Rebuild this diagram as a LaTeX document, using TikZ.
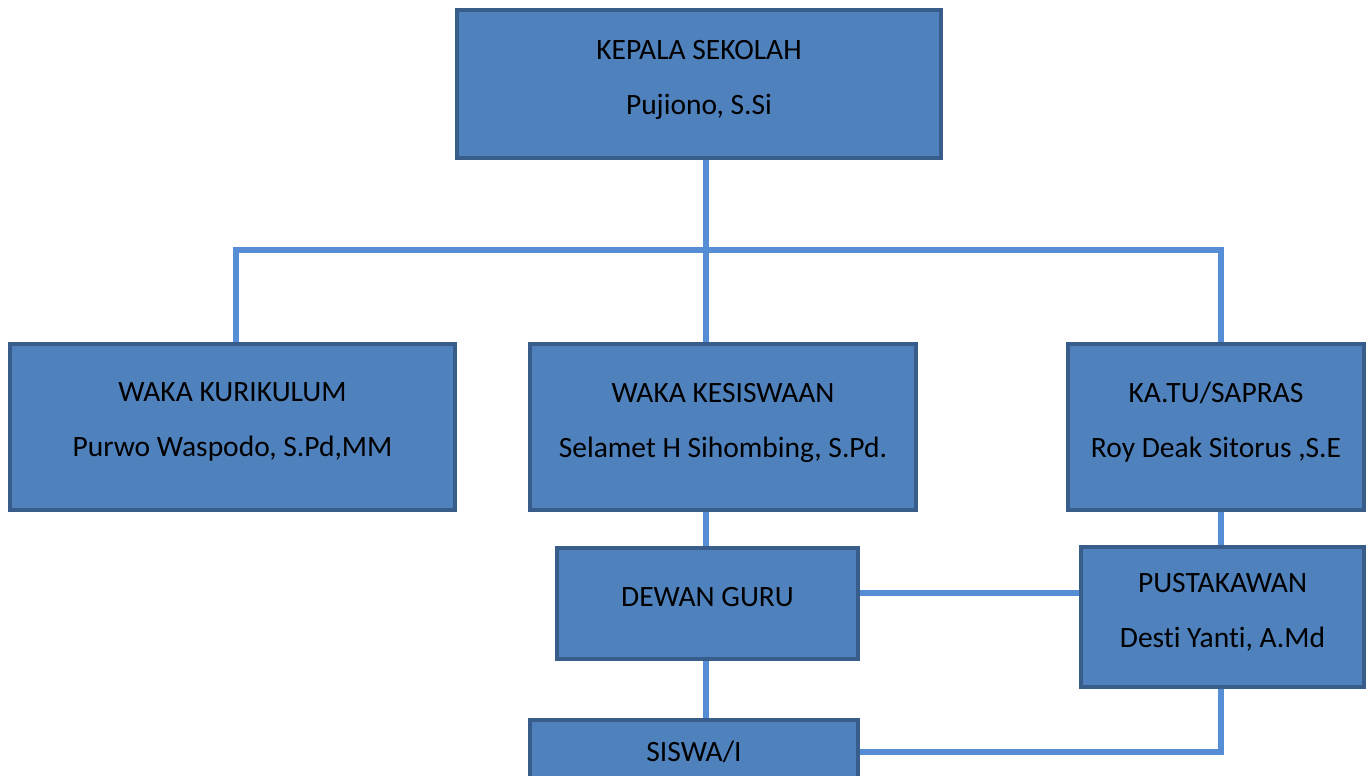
\documentclass[tikz,border=0pt]{standalone}
\usepackage{fontspec}
\setmainfont{Carlito}[Ligatures=NoCommon]
\usepackage{tikz}
\definecolor{boxfill}{HTML}{4F81BD}
\definecolor{boxline}{HTML}{385D8A}
\definecolor{linkline}{HTML}{558ED5}
\tikzset{
  unit/.style={rectangle, fill=boxfill, draw=boxline, line width=4pt, align=center,
    inner sep=0pt, text depth=14pt, font=\fontsize{29.5}{55}\selectfont},
  link/.style={draw=linkline, line width=6pt}
}

\begin{document}
\begin{tikzpicture}[x=1pt,y=1pt,yscale=-1,xscale=1]
\useasboundingbox (0,0) rectangle (1368,776);

%Boxes
\node [unit, minimum width=484pt, minimum height=148pt] (kepala) at (699,84) {KEPALA SEKOLAH\\Pujiono, S.Si};
\node [unit, minimum width=445pt, minimum height=166pt] (kurikulum) at (232.5,427) {WAKA KURIKULUM\\Purwo Waspodo, S.Pd,MM};
\node [unit, minimum width=386pt, minimum height=166pt] (kesiswaan) at (723,427) {WAKA KESISWAAN\\Selamet H Sihombing, S.Pd.};
\node [unit, minimum width=296pt, minimum height=166pt] (katu) at (1216,427) {KA.TU/SAPRAS\\Roy Deak Sitorus ,S.E};
\node [unit, minimum width=301pt, minimum height=111pt] (dewan) at (707.5,603.5) {DEWAN GURU};
\node [unit, minimum width=283pt, minimum height=140pt] (pustaka) at (1222.5,617) {PUSTAKAWAN\\Desti Yanti, A.Md};
\node [unit, minimum width=328pt, minimum height=76pt] (siswa) at (694,758) {SISWA/I};

%Bar coordinates
\coordinate (bar) at (706,250);
\coordinate (barL) at (236,250);
\coordinate (barR) at (1221,250);
\coordinate (corner) at (1221,752);

%Links
\draw [link] (kepala.south -| bar) -- (kesiswaan.north -| bar);
\draw [link] (barL |- kurikulum.north) -- (barL) -- (barR) -- (barR |- katu.north);
\draw [link] (kesiswaan.south -| bar) -- (dewan.north -| bar);
\draw [link] (dewan.south -| bar) -- (siswa.north -| bar);
\draw [link] (katu.south -| barR) -- (pustaka.north -| barR);
\draw [link] (dewan.east |- 0,593) -- (pustaka.west |- 0,593);
\draw [link] (pustaka.south -| corner) -- (corner) -- (siswa.east |- corner);
\end{tikzpicture}
\end{document}
